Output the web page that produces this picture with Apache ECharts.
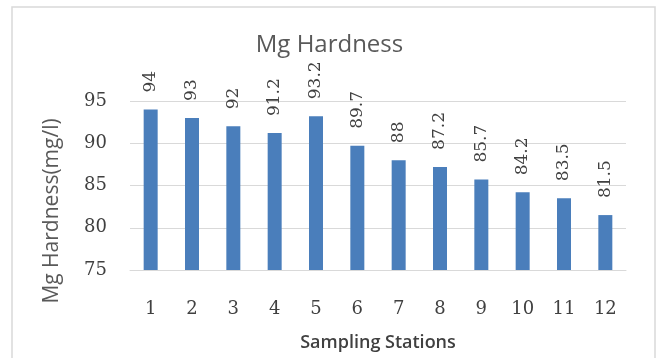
<!DOCTYPE html>
<html>
<head>
<meta charset="utf-8">
<script src="https://cdn.jsdelivr.net/npm/echarts@6/dist/echarts.min.js"></script>
<style>
  html, body { margin: 0; padding: 0; background: #ffffff; }
  #chart { width: 659px; height: 358px; }
</style>
</head>
<body>
<div id="chart"></div>
<script>
// Sampling stations along the x axis
const stations = ['1', '2', '3', '4', '5', '6', '7', '8', '9', '10', '11', '12'];
// Magnesium hardness per station, mg/l
const mgHardness = [94, 93, 92, 91.2, 93.2, 89.7, 88, 87.2, 85.7, 84.2, 83.5, 81.5];
// Value axis ticks
const yTicks = [75, 80, 85, 90, 95];

const chart = echarts.init(document.getElementById('chart'), null, { renderer: 'canvas' });

const serif = 'DejaVu Serif, Liberation Serif, serif';
const sans = 'Open Sans, Noto Sans, sans-serif';

chart.setOption({
  animation: false,
  backgroundColor: '#ffffff',
  graphic: [{
    type: 'rect',
    shape: { x: 12, y: 7, width: 643, height: 360 },
    style: { fill: 'none', stroke: '#d9d9d9', lineWidth: 1.5 },
    z: -1
  }, {
    // value axis title, placed beside the tick labels
    type: 'text',
    x: 52,
    y: 211,
    rotation: Math.PI / 2,
    style: {
      text: 'Mg Hardness(mg/l)',
      fontFamily: sans,
      fontSize: 21,
      fill: '#595959',
      align: 'center',
      verticalAlign: 'middle'
    }
  }],
  title: {
    text: 'Mg Hardness',
    left: 'center',
    top: 28,
    textStyle: { fontFamily: sans, fontWeight: 'normal', fontSize: 24, color: '#595959' }
  },
  grid: { left: 130, right: 33, top: 101, bottom: 88 },
  xAxis: {
    type: 'category',
    data: stations,
    name: 'Sampling Stations',
    nameLocation: 'middle',
    nameGap: 64,
    nameTextStyle: { fontFamily: sans, fontWeight: 600, fontSize: 18, color: '#404040' },
    axisLine: { lineStyle: { color: '#d9d9d9', width: 1 } },
    axisTick: { show: false },
    axisLabel: { fontFamily: serif, fontSize: 18, color: '#404040', margin: 30 }
  },
  yAxis: {
    type: 'value',
    min: yTicks[0],
    max: yTicks[yTicks.length - 1],
    interval: 5,
    axisLine: { show: false },
    axisTick: { show: false },
    splitLine: { lineStyle: { color: '#d9d9d9', width: 1 } },
    axisLabel: { fontFamily: serif, fontSize: 18, color: '#404040', margin: 23 }
  },
  series: [{
    type: 'bar',
    data: mgHardness,
    barWidth: 14,
    itemStyle: { color: '#4a7ebb' },
    label: {
      show: true,
      position: 'top',
      rotate: 90,
      align: 'left',
      verticalAlign: 'middle',
      distance: 17,
      fontFamily: serif,
      fontSize: 17,
      color: '#404040'
    }
  }]
});
</script>
</body>
</html>
